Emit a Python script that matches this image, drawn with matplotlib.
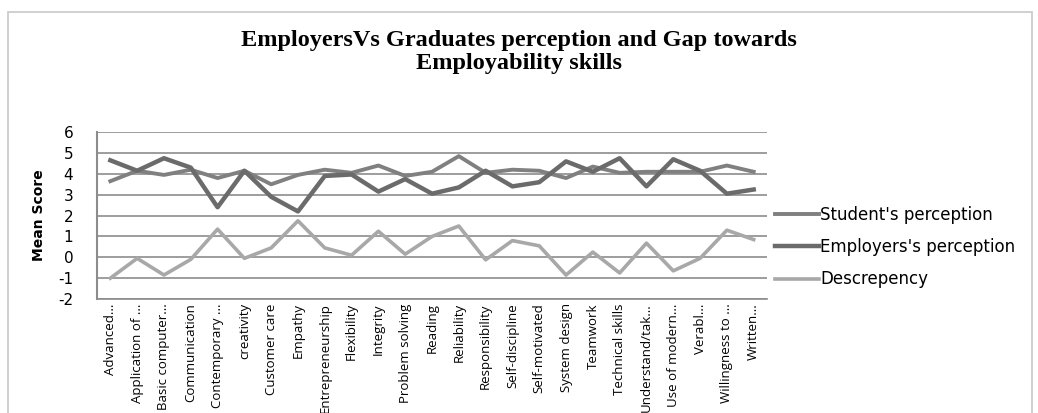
import numpy as np
import matplotlib
matplotlib.use('Agg')
import matplotlib.pyplot as plt
from matplotlib.patches import Rectangle

# data
skills = ['Advanced...', 'Application of ...', 'Basic computer...', 'Communication',
          'Contemporary ...', 'creativity', 'Customer care', 'Empathy',
          'Entrepreneurship', 'Flexibility', 'Integrity', 'Problem solving',
          'Reading', 'Reliability', 'Responsibility', 'Self-discipline',
          'Self-motivated', 'System design', 'Teamwork', 'Technical skills',
          'Understand/tak...', 'Use of modern...', 'Verabl...',
          'Willingness to ...', 'Written...']
students = [3.65, 4.15, 3.95, 4.2, 3.8, 4.15, 3.5, 3.95, 4.2, 4.05, 4.4, 3.9,
            4.1, 4.85, 4.05, 4.2, 4.15, 3.8, 4.35, 4.05, 4.1, 4.1, 4.1, 4.4, 4.1]
employers = [4.65, 4.15, 4.75, 4.3, 2.4, 4.15, 2.9, 2.2, 3.9, 3.97, 3.15, 3.75,
             3.05, 3.35, 4.15, 3.4, 3.6, 4.6, 4.1, 4.75, 3.4, 4.7, 4.15, 3.05, 3.25]
gap = [-1.0, -0.05, -0.85, -0.1, 1.35, -0.05, 0.45, 1.75, 0.45, 0.1, 1.25, 0.15,
       1.0, 1.5, -0.12, 0.8, 0.55, -0.85, 0.25, -0.75, 0.68, -0.65, -0.05, 1.3, 0.85]
yticks = list(range(-2, 7))

fig = plt.figure(figsize=(10.38, 4.13), dpi=100)
ax = fig.add_axes([0.0934, 0.276, 0.6456, 0.404])

x = np.arange(len(skills))
ax.plot(x, students, color='#808080', lw=2.8, label="Student's perception")
ax.plot(x, employers, color='#6b6b6b', lw=3.2, label="Employers's perception")
ax.plot(x, gap, color='#a8a8a8', lw=2.6, label='Descrepency')

ax.set_xlim(-0.5, len(skills) - 0.5)
ax.set_ylim(-2, 6)
ax.set_yticks(yticks)
ax.set_yticklabels([str(t) for t in yticks])
ax.yaxis.grid(True, color='#8c8c8c', lw=1.2)
ax.set_axisbelow(True)
ax.set_xticks(x)
ax.set_xticklabels(skills, rotation=90, fontsize=9.5, family='Open Sans')
ax.tick_params(axis='x', length=0, pad=3)
ax.tick_params(axis='y', length=0, labelsize=11, pad=17)
for s in ['top', 'right']:
    ax.spines[s].set_visible(False)
ax.spines['left'].set_color('#8c8c8c')
ax.spines['left'].set_linewidth(1.5)
ax.spines['bottom'].set_color('#8c8c8c')
ax.spines['bottom'].set_linewidth(1.2)
ax.set_ylabel('Mean Score', fontsize=10, fontweight='bold', labelpad=9)

leg = ax.legend(loc='center left', bbox_to_anchor=(0.99, 0.31), frameon=False,
                fontsize=12, handlelength=2.6, handletextpad=0.1, labelspacing=0.85)

fig.text(0.5, 0.902, 'EmployersVs Graduates perception and Gap towards',
         ha='center', va='center', fontsize=17.5, family='Liberation Serif',
         fontweight='bold')
fig.text(0.5, 0.847, 'Employability skills', ha='center', va='center',
         fontsize=17.5, family='Liberation Serif', fontweight='bold')

fig.patches.append(Rectangle((0.008, -0.01), 0.986, 0.982, transform=fig.transFigure,
                             fill=False, edgecolor='#c8c8c8', lw=1.2))

fig.savefig('out.png', dpi=100)
